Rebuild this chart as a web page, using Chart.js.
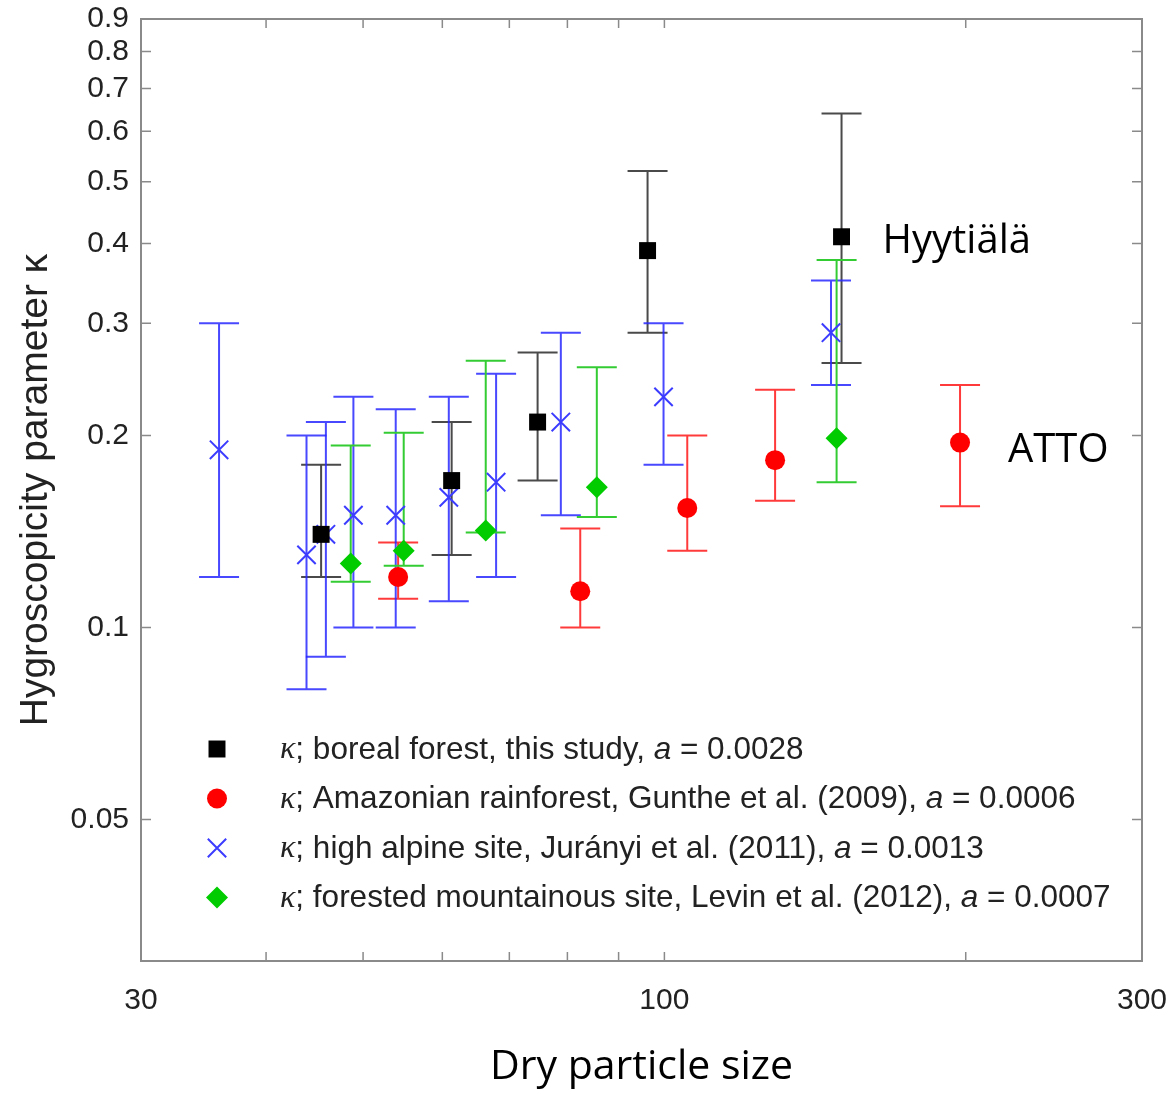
<!DOCTYPE html>
<html>
<head>
<meta charset="utf-8">
<title>Hygroscopicity parameter vs dry particle size</title>
<script src="https://cdn.jsdelivr.net/npm/chart.js"></script>
<style>
  html, body { margin: 0; padding: 0; background: #fff; }
  canvas { display: block; }
</style>
</head>
<body>
<canvas id="kappaChart" width="1171" height="1094"></canvas>
<script>
// boreal forest, this study
const borealD  = [45.4, 61.3, 74.7, 96.2, 150.3];
const borealK  = [0.14, 0.17, 0.21, 0.39, 0.41];
const borealLo = [0.12, 0.13, 0.17, 0.29, 0.26];
const borealHi = [0.18, 0.21, 0.27, 0.52, 0.64];

// Amazonian rainforest, Gunthe et al. (2009)
const amazonD  = [54.2, 82.4, 105.4, 129.0, 197.4];
const amazonK  = [0.120, 0.114, 0.154, 0.183, 0.195];
const amazonLo = [0.111, 0.100, 0.132, 0.158, 0.155];
const amazonHi = [0.136, 0.143, 0.200, 0.236, 0.240];

// high alpine site, Jurányi et al. (2011)
const alpineD  = [35.9, 43.9, 45.9, 48.9, 53.9, 60.9, 67.9, 78.8, 99.8, 146.7];
const alpineK  = [0.19, 0.13, 0.14, 0.15, 0.15, 0.16, 0.169, 0.21, 0.23, 0.29];
const alpineLo = [0.12, 0.08, 0.09, 0.10, 0.10, 0.11, 0.12, 0.15, 0.18, 0.24];
const alpineHi = [0.30, 0.20, 0.21, 0.23, 0.22, 0.23, 0.25, 0.29, 0.30, 0.35];

// forested mountainous site, Levin et al. (2012)
const levinD  = [48.6, 54.9, 66.3, 85.6, 148.6];
const levinK  = [0.126, 0.132, 0.142, 0.166, 0.198];
const levinLo = [0.118, 0.125, 0.141, 0.149, 0.169];
const levinHi = [0.193, 0.202, 0.262, 0.256, 0.377];

const xTicks = [30, 40, 50, 60, 70, 80, 90, 100, 200, 300];
const xTickLabels = [30, 100, 300];
const yTicks = [0.05, 0.1, 0.2, 0.3, 0.4, 0.5, 0.6, 0.7, 0.8, 0.9];

const legendSites = [
    'boreal forest, this study',
    'Amazonian rainforest, Gunthe et al. (2009)',
    'high alpine site, Jurányi et al. (2011)',
    'forested mountainous site, Levin et al. (2012)'
];
const legendA = ['0.0028', '0.0006', '0.0013', '0.0007'];

const toPoints = (d, k) => d.map((v, i) => ({ x: v, y: k[i] }));

const SANS = '"Liberation Sans", Arial, sans-serif';
Chart.defaults.font.family = SANS;

// vertical error bars with caps, drawn under the markers
const errorBars = {
    id: 'errorBars',
    beforeDatasetsDraw(chart) {
        const { ctx, scales: { x, y } } = chart;
        chart.data.datasets.forEach(ds => {
            ctx.save();
            ctx.strokeStyle = ds.errColor;
            ctx.lineWidth = 2;
            ds.data.forEach((p, i) => {
                const px = x.getPixelForValue(p.x);
                const top = y.getPixelForValue(ds.errHi[i]);
                const bot = y.getPixelForValue(ds.errLo[i]);
                ctx.beginPath();
                ctx.moveTo(px, top); ctx.lineTo(px, bot);
                ctx.moveTo(px - 20, top); ctx.lineTo(px + 20, top);
                ctx.moveTo(px - 20, bot); ctx.lineTo(px + 20, bot);
                ctx.stroke();
            });
            ctx.restore();
        });
    }
};

// box frame with inward tick marks on all four sides
const frameTicks = {
    id: 'frameTicks',
    afterDatasetsDraw(chart) {
        const { ctx, chartArea: a, scales: { x, y } } = chart;
        ctx.save();
        ctx.strokeStyle = '#8a8a8a';
        ctx.lineWidth = 2;
        ctx.strokeRect(a.left, a.top, a.right - a.left, a.bottom - a.top);
        ctx.lineWidth = 1.5;
        ctx.beginPath();
        x.ticks.forEach(t => {
            const px = x.getPixelForValue(t.value);
            if (px <= a.left + 1 || px >= a.right - 1) return;
            ctx.moveTo(px, a.bottom); ctx.lineTo(px, a.bottom - 9);
            ctx.moveTo(px, a.top); ctx.lineTo(px, a.top + 9);
        });
        y.ticks.forEach(t => {
            const py = y.getPixelForValue(t.value);
            if (py <= a.top + 1 || py >= a.bottom - 1) return;
            ctx.moveTo(a.left, py); ctx.lineTo(a.left + 10, py);
            ctx.moveTo(a.right, py); ctx.lineTo(a.right - 10, py);
        });
        ctx.stroke();
        ctx.restore();
    }
};

// legend block inside the plot, with italic kappa and a
const kappaLegend = {
    id: 'kappaLegend',
    afterDatasetsDraw(chart) {
        const { ctx, chartArea: a } = chart;
        const mx = a.left + 76, tx = a.left + 139;
        const y0 = 749, step = 49.5;
        ctx.save();
        chart.data.datasets.forEach((ds, i) => {
            const cy = y0 + i * step;
            ctx.fillStyle = ds.backgroundColor;
            ctx.strokeStyle = ds.borderColor;
            ctx.lineWidth = ds.pointBorderWidth || 1;
            Chart.helpers.drawPoint(ctx, {
                pointStyle: ds.pointStyle, radius: ds.pointRadius,
                rotation: 0, borderWidth: ds.pointBorderWidth || 0
            }, mx, cy);
            const parts = [
                ['κ', 'italic 32px "Liberation Serif", serif'],
                ['; ' + legendSites[i] + ', ', '31.5px ' + SANS],
                ['a', 'italic 31.5px ' + SANS],
                [' = ' + legendA[i], '31.5px ' + SANS]
            ];
            let cx = tx;
            ctx.fillStyle = '#222';
            ctx.textBaseline = 'middle';
            parts.forEach(([t, f]) => {
                ctx.font = f;
                ctx.fillText(t, cx, cy + 1);
                cx += ctx.measureText(t).width;
            });
        });
        ctx.restore();
    }
};

// site names next to the last boreal and Amazonian points
const siteNames = {
    id: 'siteNames',
    afterDatasetsDraw(chart) {
        const { ctx } = chart;
        ctx.save();
        ctx.font = '40px "Open Sans", sans-serif';
        ctx.fillStyle = '#000';
        ctx.textBaseline = 'middle';
        [[0, 'Hyytiälä', 41, 5], [1, 'ATTO', 48, 8]].forEach(([di, text, dx, dy]) => {
            const el = chart.getDatasetMeta(di).data.at(-1);
            ctx.fillText(text, el.x + dx, el.y + dy);
        });
        ctx.restore();
    }
};

const datasets = [
    {
        label: 'boreal forest',
        data: toPoints(borealD, borealK),
        errLo: borealLo, errHi: borealHi, errColor: '#4a4a4a',
        pointStyle: 'rect', pointRadius: 12,
        backgroundColor: '#000', borderColor: '#000', pointBorderWidth: 0
    },
    {
        label: 'Amazonian rainforest',
        data: toPoints(amazonD, amazonK),
        errLo: amazonLo, errHi: amazonHi, errColor: '#ff3a3a',
        pointStyle: 'circle', pointRadius: 10,
        backgroundColor: '#ff0000', borderColor: '#ff0000', pointBorderWidth: 0
    },
    {
        label: 'high alpine site',
        data: toPoints(alpineD, alpineK),
        errLo: alpineLo, errHi: alpineHi, errColor: 'rgba(40,40,255,0.85)',
        pointStyle: 'crossRot', pointRadius: 13,
        backgroundColor: '#3c3cff', borderColor: '#3c3cff', pointBorderWidth: 2
    },
    {
        label: 'forested mountainous site',
        data: toPoints(levinD, levinK),
        errLo: levinLo, errHi: levinHi, errColor: '#33cc33',
        pointStyle: 'rectRot', pointRadius: 11,
        backgroundColor: '#00cc00', borderColor: '#00cc00', pointBorderWidth: 0
    }
];

new Chart(document.getElementById('kappaChart'), {
    type: 'scatter',
    data: { datasets },
    options: {
        responsive: false,
        animation: false,
        layout: { padding: { top: 19, right: 29, left: 0, bottom: 0 } },
        elements: { point: { borderWidth: 0 } },
        plugins: { legend: { display: false }, tooltip: { enabled: false } },
        scales: {
            x: {
                type: 'logarithmic', min: 30, max: 300,
                afterBuildTicks: s => { s.ticks = xTicks.map(v => ({ value: v })); },
                afterFit: s => { s.height = 133; s.paddingLeft = 0; s.paddingRight = 0; },
                grid: { display: false, drawTicks: false },
                border: { display: false },
                ticks: {
                    autoSkip: false, maxRotation: 0, padding: 22,
                    color: '#222', font: { size: 30 },
                    callback: v => xTickLabels.includes(v) ? String(v) : ''
                },
                title: {
                    display: true, text: 'Dry particle size', color: '#000',
                    font: { family: '"Open Sans", sans-serif', size: 41 },
                    padding: { top: 0, bottom: 2 }
                }
            },
            y: {
                type: 'logarithmic', min: 0.03, max: 0.9,
                afterBuildTicks: s => { s.ticks = yTicks.map(v => ({ value: v })); },
                afterFit: s => { s.width = 141; s.paddingTop = 0; s.paddingBottom = 0; },
                grid: { display: false, drawTicks: false },
                border: { display: false },
                ticks: {
                    autoSkip: false, padding: 12,
                    color: '#222', font: { size: 30 },
                    callback: v => String(v)
                },
                title: {
                    display: true, text: 'Hygroscopicity parameter κ', color: '#222',
                    font: { size: 39 },
                    padding: { top: 13, bottom: 0 }
                }
            }
        }
    },
    plugins: [errorBars, frameTicks, kappaLegend, siteNames]
});
</script>
</body>
</html>
